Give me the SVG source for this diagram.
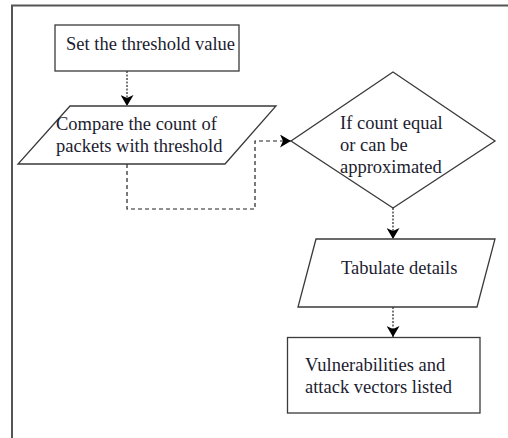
<svg xmlns="http://www.w3.org/2000/svg" width="508" height="438" viewBox="0 0 508 438">
<style>
.shape{fill:#fff;stroke:#3a3a3a;stroke-width:1.3}
.t{font-family:'Liberation Serif','DejaVu Serif',serif;font-size:18.5px;fill:#1c1c30}
.c{fill:none;stroke:#222;stroke-width:1.2}
.dot{stroke-dasharray:2 1.5}
.dash{stroke-dasharray:4 3}
</style>
<defs>
<marker id="ah" viewBox="0 0 11 13" refX="11" refY="6.5" markerWidth="11" markerHeight="13" markerUnits="userSpaceOnUse" orient="auto">
<path d="M0,0 L11,6.5 L0,13 L3,6.5 Z" fill="#000"/>
</marker>
</defs>
<rect width="508" height="438" fill="#fff"/>
<g id="frame">
<path d="M12,438 V5.5 H508" fill="none" stroke="#555" stroke-width="2"/>
</g>
<g id="connectors">
<path class="c dot" d="M127,71 V106" marker-end="url(#ah)"/>
<path class="c dash" d="M127,164 V209 H255 V141 H291" marker-end="url(#ah)"/>
<path class="c dot" d="M393,208 V239" marker-end="url(#ah)"/>
<path class="c dot" d="M393,307 V337" marker-end="url(#ah)"/>
</g>
<g id="n1">
<rect class="shape" x="55" y="25" width="184" height="46"/>
<text class="t" x="66" y="50">Set the threshold value</text>
</g>
<g id="n2">
<polygon class="shape" points="70,106 276,106 225,164 18,164"/>
<text class="t" x="56" y="130">Compare the count of</text>
<text class="t" x="56" y="152">packets with threshold</text>
</g>
<g id="n3">
<polygon class="shape" points="393,72 495,141 393,208 291,141"/>
<text class="t" x="340" y="129">If count equal</text>
<text class="t" x="340" y="151">or can be</text>
<text class="t" x="340" y="173">approximated</text>
</g>
<g id="n4">
<polygon class="shape" points="316,239 495,239 477,307 298,307"/>
<text class="t" x="341" y="274">Tabulate details</text>
</g>
<g id="n5">
<rect class="shape" x="287.5" y="337.5" width="192.5" height="75.5" stroke-width="1.6"/>
<text class="t" x="305" y="371">Vulnerabilities and</text>
<text class="t" x="305" y="393">attack vectors listed</text>
</g>
</svg>
